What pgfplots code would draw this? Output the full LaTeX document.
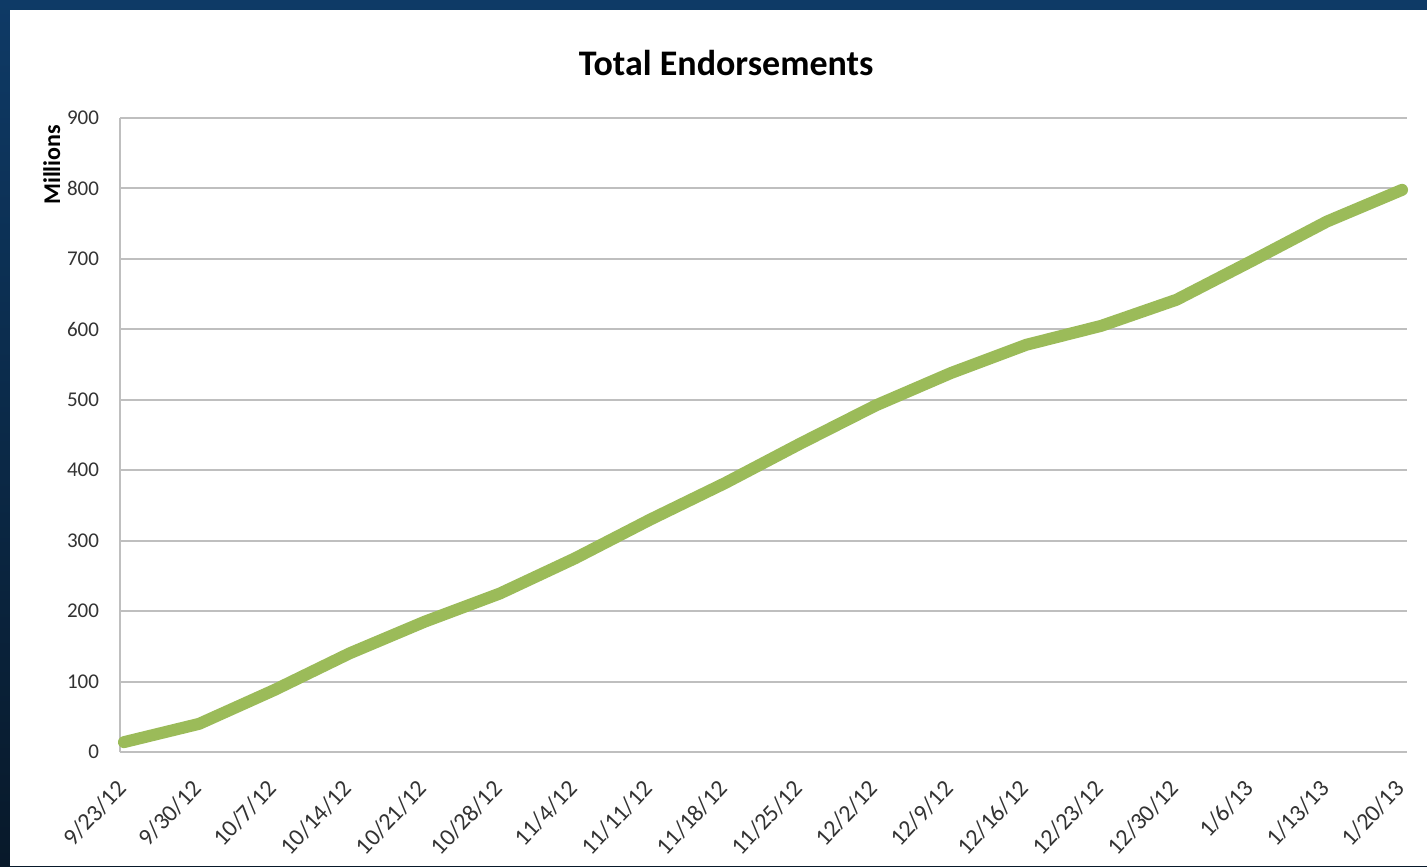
\documentclass[border=0pt]{standalone}
\usepackage{pgfplots}
\pgfplotsset{compat=1.18}
\usepackage{fontspec}
\setmainfont{Carlito}
\definecolor{endgreen}{HTML}{9BBB59}
\definecolor{gridgray}{HTML}{BFBFBF}
\definecolor{navytop}{HTML}{0E3A66}
\definecolor{navybot}{HTML}{08192A}

\begin{document}
\begin{tikzpicture}
\useasboundingbox (0,0) rectangle (713.5pt,433pt);
% slide background and white chart panel
\shade[top color=navytop, bottom color=navybot] (0,0) rectangle (713.5pt,433pt);
\fill[white] (5pt,0) rectangle (713.5pt,428pt);
\begin{axis}[
  at={(60pt,57pt)}, anchor=south west,
  scale only axis, width=643.5pt, height=317pt,
  xmin=-0.053, xmax=17.066,
  ymin=0, ymax=900,
  ytick={0,100,...,900},
  xtick={0,...,17},
  xticklabels={9/23/12, 9/30/12, 10/7/12, 10/14/12, 10/21/12, 10/28/12,
               11/4/12, 11/11/12, 11/18/12, 11/25/12, 12/2/12, 12/9/12,
               12/16/12, 12/23/12, 12/30/12, 1/6/13, 1/13/13, 1/20/13},
  axis x line*=bottom, axis y line*=left,
  axis line style={gridgray, line width=1pt, -},
  ymajorgrids, grid style={gridgray, line width=1pt},
  major tick length=0pt,
  /pgf/number format/assume math mode=true,
  yticklabel style={font=\fontsize{10.5}{12}\selectfont, text=black!80, xshift=-7pt},
  xticklabel style={font=\fontsize{12}{14}\selectfont, text=black!80,
                    xshift=-1pt, yshift=-16pt, rotate=47, anchor=east, inner sep=0pt},
  every axis title shift=0pt,
  title={Total Endorsements},
  title style={font=\fontsize{18}{20}\selectfont\bfseries, at={(rel axis cs:0.471,1.087)}, anchor=center},
  ylabel={Millions},
  ylabel style={font=\fontsize{12}{14}\selectfont\bfseries, at={(rel axis cs:-0.053,0.926)}, anchor=center, rotate=0},
  clip=false,
]
\addplot[endgreen, line width=6pt, line cap=round, line join=round] coordinates {
  (0,14) (1,40) (2,88) (3,140) (4,185) (5,225) (6,275) (7,330) (8,382)
  (9,438) (10,492) (11,538) (12,578) (13,605) (14,642) (15,697) (16,753) (17,798)
};
\end{axis}
\end{tikzpicture}
\end{document}
